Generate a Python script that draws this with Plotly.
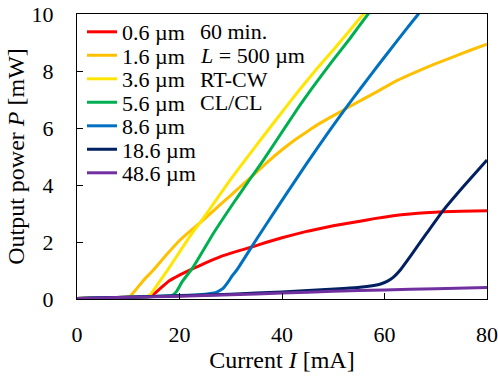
import plotly.graph_objects as go

names = ["0.6 µm", "1.6 µm", "3.6 µm", "5.6 µm", "8.6 µm", "18.6 µm", "48.6 µm"]
colors = ["#FF0000", "#FFC000", "#FFE600", "#00B050", "#0070C0", "#002060", "#7030A0"]

red_I = [0, 5, 10, 14, 14.5, 15.5, 18, 20, 22.7, 25, 27.9, 31, 34.4, 37, 40, 45, 50, 55.2, 58, 61.7, 65, 68, 71.5, 75, 80]
red_P = [0.02, 0.04, 0.06, 0.08, 0.1, 0.25, 0.64, 0.84, 1.07, 1.26, 1.48, 1.66, 1.84, 1.99, 2.15, 2.38, 2.57, 2.73, 2.82, 2.92, 2.98, 3.03, 3.06, 3.08, 3.1]

orange_I = [0, 5, 9, 10.3, 11.5, 13, 14.9, 17.5, 20.1, 22.3, 24.6, 27.2, 29.9, 31.8, 33.8, 37, 40.3, 42.5, 44.8, 46.8, 49.5, 52, 55.5, 59.1, 62.5, 66.3, 69.5, 72.8, 76.5, 80]
orange_P = [0.02, 0.04, 0.05, 0.09, 0.33, 0.66, 1.02, 1.56, 2.07, 2.42, 2.77, 3.19, 3.62, 3.93, 4.25, 4.78, 5.28, 5.58, 5.86, 6.1, 6.38, 6.63, 6.98, 7.33, 7.67, 7.98, 8.22, 8.45, 8.71, 8.94]

yellow_I = [0, 5, 10, 13.5, 14.2, 15.5, 18.1, 22, 25.3, 29.9, 33.8, 36.4, 40.3, 43.5, 46.8, 50, 53.3, 55.9, 57]
yellow_P = [0.02, 0.04, 0.06, 0.08, 0.14, 0.45, 1.13, 2.19, 3.0, 4.18, 5.11, 5.72, 6.63, 7.36, 8.08, 8.74, 9.44, 10.0, 10.25]

green_I = [0, 5, 10, 15, 18.5, 19.4, 20.5, 22.7, 26.6, 30.5, 33.8, 36.4, 40.9, 43.5, 45.8, 50, 53.3, 56.8, 58]
green_P = [0.02, 0.04, 0.06, 0.09, 0.12, 0.26, 0.6, 1.13, 2.3, 3.36, 4.22, 4.88, 6.1, 6.8, 7.38, 8.39, 9.15, 10.0, 10.3]

blue_I = [0, 5, 10, 15, 20, 25, 27, 28.5, 29.5, 30.3, 31.2, 34.4, 37, 40.3, 44.8, 49, 52.3, 55.5, 59.1, 62, 64.6, 66.6, 68]
blue_P = [0.02, 0.04, 0.06, 0.09, 0.12, 0.17, 0.22, 0.37, 0.6, 0.82, 1.02, 1.92, 2.64, 3.54, 4.75, 5.84, 6.66, 7.43, 8.28, 8.95, 9.55, 10.0, 10.36]

navy_I = [0, 10, 20, 30, 40, 46.8, 52, 55.2, 59.1, 60.5, 61.7, 63, 65, 68.2, 71.5, 75.4, 80]
navy_P = [0.02, 0.06, 0.11, 0.17, 0.25, 0.32, 0.37, 0.41, 0.52, 0.62, 0.76, 1.0, 1.49, 2.3, 3.12, 3.95, 4.88]

purple_I = [0, 10, 20, 30, 40, 50, 60, 70, 80]
purple_P = [0.02, 0.06, 0.1, 0.15, 0.21, 0.27, 0.32, 0.36, 0.4]

series = [(red_I, red_P), (orange_I, orange_P), (yellow_I, yellow_P), (green_I, green_P),
          (blue_I, blue_P), (navy_I, navy_P), (purple_I, purple_P)]

x_ticks = [0, 20, 40, 60, 80]
y_ticks = [0, 2, 4, 6, 8, 10]

notes = ["60 min.", "<i>L</i> = 500 µm", "RT-CW", "CL/CL"]

FONT = "Liberation Serif, Times New Roman, serif"
FS = 22

W, H = 498, 380
PL, PR, PT, PB = 77, 11, 14, 81
PW, PH = W - PL - PR, H - PT - PB

def py_to_paper(py):
    return (H - PB - py) / PH

def px_to_paper(px):
    return (px - PL) / PW

fig = go.Figure()
legend_keys = ["legend"] + ["legend%d" % (i + 2) for i in range(len(names) - 1)]
for (xs, ys), name, col, lk in zip(series, names, colors, legend_keys):
    fig.add_trace(go.Scatter(x=xs, y=ys, mode="lines", name=name, legend=lk,
                             line=dict(color=col, width=3, shape="spline", smoothing=0.4)))

legend_layout = {}
for i, lk in enumerate(legend_keys):
    legend_layout[lk] = dict(x=px_to_paper(82), y=py_to_paper(32 + 23.5 * i),
                             xanchor="left", yanchor="middle", bgcolor="rgba(0,0,0,0)",
                             borderwidth=0, font=dict(family=FONT, size=FS, color="black"))

for i, t in enumerate(notes):
    fig.add_annotation(text=t, xref="paper", yref="paper", x=px_to_paper(198),
                       y=py_to_paper(32 + 23.5 * i),
                       xanchor="left", yanchor="middle", showarrow=False,
                       font=dict(family=FONT, size=FS, color="black"))

axis_common = dict(showline=True, linecolor="black", linewidth=1.3, mirror=True,
                   ticks="inside", ticklen=6, tickcolor="black", showgrid=False, zeroline=False,
                   automargin=False, ticklabeloverflow="allow",
                   tickfont=dict(family=FONT, size=FS, color="black"))

fig.update_layout(
    width=W, height=H,
    margin=dict(l=PL, r=PR, t=PT, b=PB),
    paper_bgcolor="white", plot_bgcolor="white",
    font=dict(family=FONT, size=FS, color="black"),
    showlegend=True,
    xaxis=dict(range=[0, 80], tickvals=x_ticks, ticklabelstandoff=15,
               title=dict(text="Current <i>I</i> [mA]", font=dict(family=FONT, size=24), standoff=0),
               **axis_common),
    yaxis=dict(range=[0, 10], tickvals=y_ticks, ticklabelstandoff=18,
               title=dict(text="Output power <i>P</i> [mW]", font=dict(family=FONT, size=24), standoff=0),
               **axis_common),
    **legend_layout,
)

# remove the default 8px page margin so the figure sits at the window's corner
fig.write_html("out.html", config={"displayModeBar": False},
               post_script="document.body.style.margin='0';")
